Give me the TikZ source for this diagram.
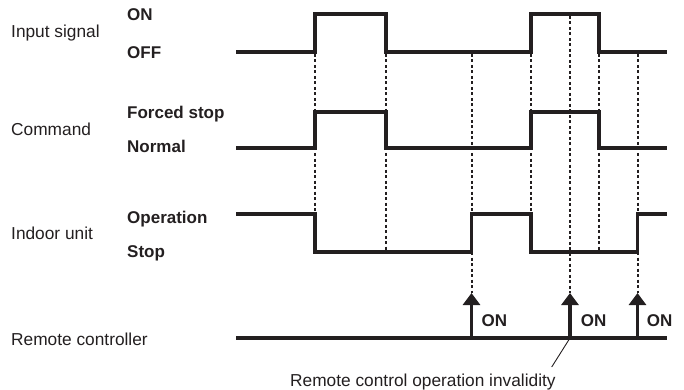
\documentclass[tikz,border=0pt]{standalone}
\usepackage{fontspec}
\setmainfont{Liberation Sans}
\usetikzlibrary{arrows.meta}
\definecolor{ink}{HTML}{231F20}
\begin{document}
\begin{tikzpicture}[x=1pt,y=-1pt,
  wave/.style={line width=3.6pt, draw=ink, line join=miter},
  guide/.style={line width=2pt, draw=ink, dash pattern=on 3pt off 2.5pt},
  lab/.style={anchor=base west, inner sep=0pt, font=\fontsize{17.3}{20}\selectfont, text=ink},
  blab/.style={anchor=base west, inner sep=0pt, font=\fontsize{17}{20}\selectfont\bfseries, text=ink},
  trig/.style={line width=3.2pt, draw=ink, -{Triangle[width=17pt,length=12pt]}},
  leader/.style={line width=0.9pt, draw=ink}
]
\useasboundingbox (0,0) rectangle (684,390);

% row labels
\node[lab] (lin) at (11,37.8) {Input signal};
\node[lab] (lcmd) at (11,135.5) {Command};
\node[lab] (lidu) at (11,239.3) {Indoor unit};
\node[lab] (lrc) at (11,345) {Remote controller};
% level labels
\node[blab] (lon) at (127,20.5) {ON};
\node[blab] (loff) at (127,59) {OFF};
\node[blab] (lfs) at (127,119) {Forced stop};
\node[blab] (lnorm) at (127,152.3) {Normal};
\node[blab] (lop) at (127,223) {Operation};
\node[blab] (lst) at (127,257) {Stop};

% time instants
\def\xs{236}\def\xa{315}\def\xb{386}\def\xc{471.5}\def\xd{531}\def\xe{570}\def\xf{599}\def\xg{637.5}\def\xz{667}

% waveforms
\draw[wave] (\xs,52) -- (\xa,52) -- (\xa,14) -- (\xb,14) -- (\xb,52) -- (\xd,52) -- (\xd,14) -- (\xf,14) -- (\xf,52) -- (\xz,52);
\draw[wave] (\xs,148) -- (\xa,148) -- (\xa,112) -- (\xb,112) -- (\xb,148) -- (\xd,148) -- (\xd,112) -- (\xf,112) -- (\xf,148) -- (\xz,148);
\draw[wave] (\xs,214) -- (\xa,214) -- (\xa,252) -- (\xc,252) -- (\xc,214) -- (\xd,214) -- (\xd,252) -- (\xg,252) -- (\xg,214) -- (\xz,214);
\draw[wave] (\xs,338) -- (\xz,338);

% coordinates
\coordinate (a0) at (\xa,54); \coordinate (a1) at (\xa,214);
\coordinate (b0) at (\xb,54); \coordinate (b1) at (\xb,252);
\coordinate (c0) at (\xc,54); \coordinate (c1) at (\xc,293);
\coordinate (d0) at (\xd,54); \coordinate (d1) at (\xd,214);
\coordinate (e0) at (\xe,16); \coordinate (e1) at (\xe,293);
\coordinate (f0) at (\xf,54); \coordinate (f1) at (\xf,252);
\coordinate (g0) at (\xg,54); \coordinate (g1) at (\xg,293);
\coordinate (cb) at (\xc,338); \coordinate (eb) at (\xe,338); \coordinate (gb) at (\xg,338);

% dotted guides
\foreach \p in {a,b,c,d,e,f,g} \draw[guide] (\p0) -- (\p1);

% remote controller ON pulses
\draw[trig] (cb) -- (c1);
\draw[trig] (eb) -- (e1);
\draw[trig] (gb) -- (g1);
\node[blab] (on1) at (481.5,326) {ON};
\node[blab] (on2) at (580.7,326) {ON};
\node[blab] (on3) at (646.7,326) {ON};

% invalidity note
\node[lab] (inv) at (290,386.5) {Remote control operation invalidity};
\coordinate (lp) at (551.7,367);
\draw[leader] (eb) -- (lp);
\end{tikzpicture}
\end{document}
